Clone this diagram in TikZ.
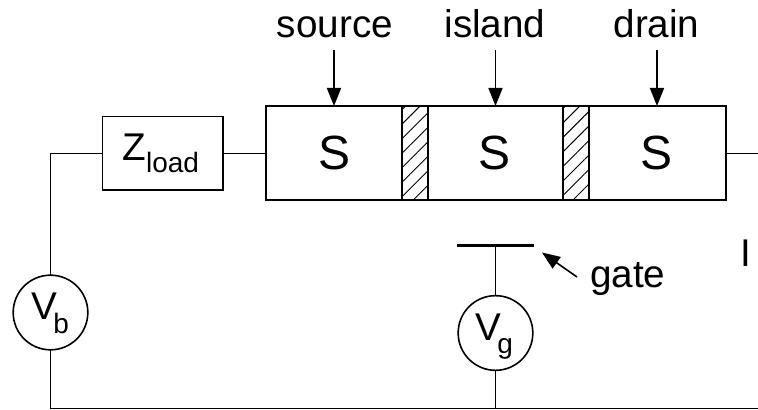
\documentclass[tikz,border=0pt]{standalone}
\usepackage{fontspec}
\setmainfont{Liberation Sans}
\usetikzlibrary{arrows.meta,patterns.meta,positioning}
\newcommand{\lbl}{\fontsize{29pt}{32pt}\selectfont}
\newcommand{\bigS}{\fontsize{36pt}{39pt}\selectfont}
\newcommand{\subs}{\fontsize{21pt}{23pt}\selectfont}
\tikzset{
  x=0.75pt,y=-0.75pt,
  wire/.style={line width=1.2pt,black},
  box/.style={draw,line width=1.2pt,inner sep=0pt,outer sep=0pt,anchor=north west},
  volt/.style={draw,circle,line width=1.2pt,minimum size=56pt,inner sep=0pt,outer sep=0pt},
  cell/.style={box,minimum height=70.5pt},
  barrier/.style={cell,minimum width=19.5pt,pattern={Lines[angle=45,distance=7.7pt,line width=0.7pt]}},
  txt/.style={font=\lbl,inner sep=0pt,outer sep=0pt},
  ptr/.style={wire,-{Stealth[length=13.5pt,width=10.5pt,inset=0pt]}},
}
\begin{document}
\begin{tikzpicture}
\useasboundingbox (0,0) rectangle (758,410);
\node[box,minimum width=345pt,minimum height=70.5pt] (main) at (266,106) {};
\node[barrier] (b1) at (402,106) {};
\node[barrier] (b2) at (563,106) {};
\node[box,minimum width=90.5pt,minimum height=55pt] (zload) at (102.5,116.5) {};
\node[txt,anchor=base west] (zlabel) at (122.5,160.5) {Z\raisebox{-9.3pt}{\subs load}};
\node[txt,font=\bigS,anchor=center] (s1) at (335,152.5) {S};
\node[txt,font=\bigS,anchor=center] (s2) at (495,152.5) {S};
\node[txt,font=\bigS,anchor=center] (s3) at (656.5,152.5) {S};
\node[txt,anchor=base] (source) at (335,38) {source};
\node[txt,anchor=base] (island) at (495,38) {island};
\node[txt,anchor=base] (drain) at (656.5,38) {drain};
\node[volt] (vb) at (50.5,312.5) {};
\node[volt] (vg) at (495.5,333) {};
\node[txt,anchor=base west] (vblabel) at (31.5,319) {V\kern-3pt\raisebox{-10.5pt}{\subs b}};
\node[txt,anchor=base west] (vglabel) at (475.5,340) {V\kern-3pt\raisebox{-10pt}{\subs g}};
\node[txt,anchor=base west] (gate) at (590,287) {gate};
\node[txt,anchor=base west] (i) at (740,267) {I};
\coordinate (barL) at (457,245.5);
\coordinate (barR) at (534,245.5);
\coordinate (barM) at (495.5,245.5);
\coordinate (rightend) at (758,153.5);
\coordinate (cornerTL) at (50.5,153.5);
\coordinate (cornerBL) at (50.5,408.5);
\coordinate (joinB) at (495.5,408.5);
\coordinate (rightB) at (758,408.5);
\coordinate (a1) at (334,50); \coordinate (e1) at (334,106);
\coordinate (a2) at (495.5,50); \coordinate (e2) at (495.5,106);
\coordinate (a3) at (657,50); \coordinate (e3) at (657,106);
\coordinate (ga) at (577,277); \coordinate (ge) at (542,252.5);
\draw[wire] (vb.north) -- (cornerTL) -- (zload.west |- cornerTL);
\draw[wire] (zload.east |- cornerTL) -- (main.west |- cornerTL);
\draw[wire] (main.east |- cornerTL) -- (rightend);
\draw[wire] (vb.south) -- (cornerBL) -- (rightB);
\draw[wire] (vg.south) -- (joinB);
\draw[wire] (vg.north) -- (barM);
\draw[line width=2.2pt] (barL) -- (barR);
\draw[ptr] (a1) -- (e1);
\draw[ptr] (a2) -- (e2);
\draw[ptr] (a3) -- (e3);
\draw[ptr] (ga) -- (ge);
\end{tikzpicture}
\end{document}
